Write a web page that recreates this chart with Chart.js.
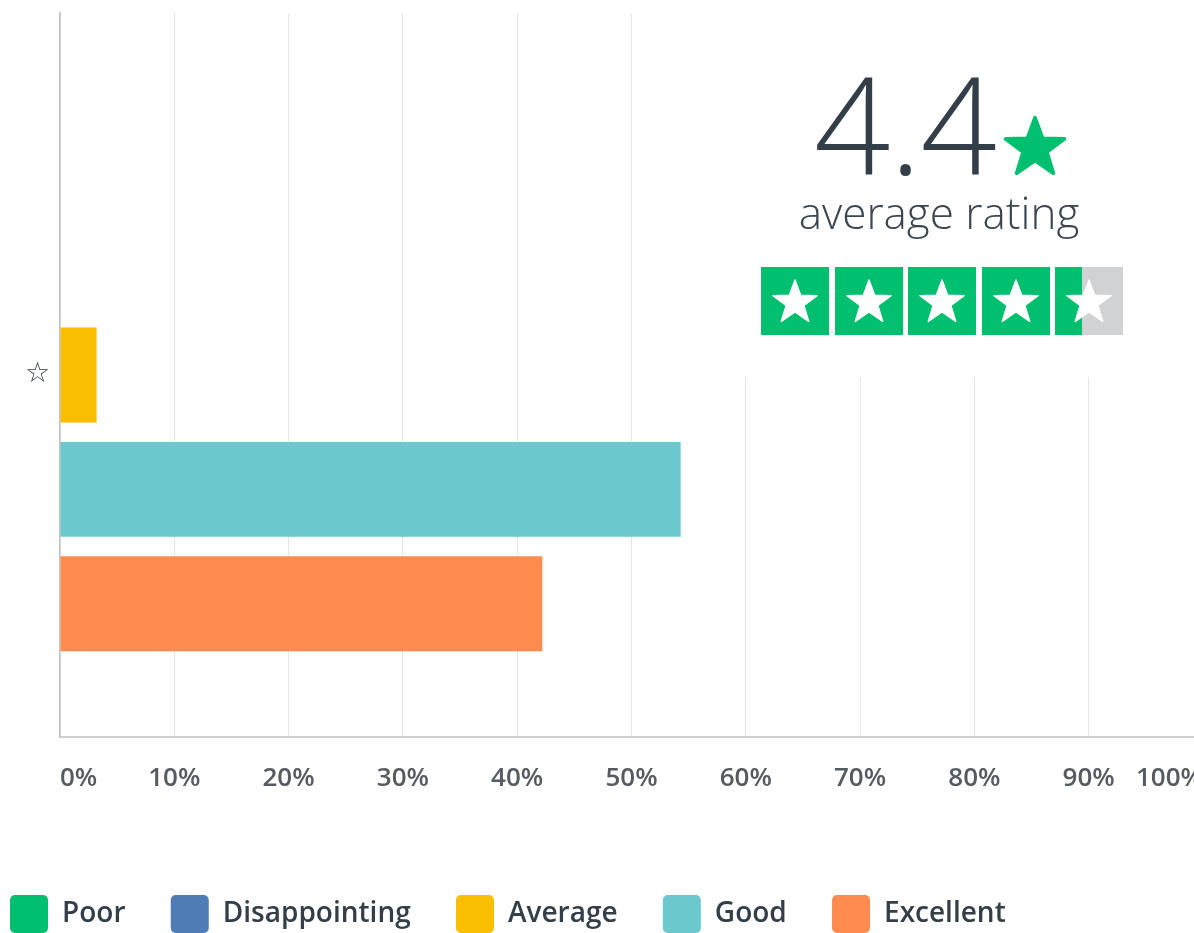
<!DOCTYPE html>
<html>
<head>
<meta charset="utf-8">
<script src="https://cdn.jsdelivr.net/npm/chart.js@4.4.1/dist/chart.umd.min.js"></script>
<style>
  html, body { margin: 0; padding: 0; background: #fff; overflow: hidden; width: 1194px; height: 933px; }
  #chart { position: absolute; left: 0; top: 0; }
  #rating { position: absolute; left: 690px; top: 0; width: 504px; height: 377px; background: #fff; }
  #rating .big { position: absolute; left: 124px; top: 56px; font-family: "Open Sans", sans-serif; font-weight: 300;
    font-size: 134px; line-height: 134px; color: #333e48; letter-spacing: -1px; white-space: nowrap; }
  #rating .star { position: absolute; left: 312px; top: 114px; width: 66px; height: 64px; }
  #rating .sub { position: absolute; left: -3px; width: 504px; text-align: center; top: 190px; font-family: "Open Sans", sans-serif;
    font-weight: 300; font-size: 44px; line-height: 44px; color: #3b4650; white-space: nowrap; }
  #rating .boxes { position: absolute; left: 71px; top: 267px; display: flex; gap: 5.6px; }
  #rating .box { width: 68px; height: 68px; background: #00bf6f; display: flex; align-items: center; justify-content: center; }
  #rating .box.part { background: linear-gradient(to right, #00bf6f 0%, #00bf6f 40%, #d1d2d4 40%, #d1d2d4 100%); }
  #rating .box svg { width: 48px; height: 48px; }
</style>
</head>
<body>
<canvas id="chart" width="1229" height="943"></canvas>
<div id="rating">
  <div class="big">4.4</div>
  <svg class="star" viewBox="0 0 100 100"><polygon points="50,6 61.8,38.2 96,38.8 68.5,59.4 78.6,92.5 50,72.6 21.4,92.5 31.5,59.4 4,38.8 38.2,38.2" fill="#00bf6f" stroke="#00bf6f" stroke-width="6" stroke-linejoin="round"/></svg>
  <div class="sub">average rating</div>
  <div class="boxes" id="boxes"></div>
</div>
<script>
// rating data
const averageRating = 4.4;

// chart data
const categories = ['☆'];
const seriesNames = ['Poor', 'Disappointing', 'Average', 'Good', 'Excellent'];
const poorValues = [0];
const disappointingValues = [0];
const averageValues = [3.2];
const goodValues = [54.3];
const excellentValues = [42.2];
const xTickMin = 0;
const xTickMax = 100;
const xTickStep = 10;

const seriesColors = ['#00bf6f', '#507cb6', '#f9be00', '#6bc8cd', '#ff8b4f'];
const seriesValues = [poorValues, disappointingValues, averageValues, goodValues, excellentValues];

// trustpilot-like star boxes
const starSvg = '<svg viewBox="0 0 100 100"><polygon points="50,6 61.8,38.2 96,38.8 68.5,59.4 78.6,92.5 50,72.6 21.4,92.5 31.5,59.4 4,38.8 38.2,38.2" fill="#fff" stroke="#fff" stroke-width="3" stroke-linejoin="round"/></svg>';
const boxes = document.getElementById('boxes');
for (let i = 0; i < 5; i++) {
  const b = document.createElement('div');
  b.className = 'box' + (averageRating < i + 1 ? ' part' : '');
  b.innerHTML = starSvg;
  boxes.appendChild(b);
}

new Chart(document.getElementById('chart').getContext('2d'), {
  type: 'bar',
  data: {
    labels: categories,
    datasets: seriesNames.map((name, i) => ({
      label: name,
      data: seriesValues[i],
      backgroundColor: seriesColors[i],
      borderWidth: 0,
      categoryPercentage: 0.79,
      barPercentage: 0.83
    }))
  },
  options: {
    indexAxis: 'y',
    responsive: false,
    animation: false,
    layout: { padding: { top: 13, right: 0, left: 0, bottom: 0 } },
    scales: {
      x: {
        min: xTickMin,
        max: xTickMax,
        ticks: {
          stepSize: xTickStep,
          align: 'inner',
          padding: 26,
          color: '#555b61',
          font: { family: 'Open Sans', size: 26, weight: '600' },
          callback: v => v + '%'
        },
        grid: { color: '#e6e6e6', lineWidth: 1, drawTicks: false },
        border: { color: '#d0d0d0', width: 2 },
        afterFit: s => { s.height = 148; }
      },
      y: {
        ticks: {
          padding: 10,
          color: '#333e48',
          font: { family: 'DejaVu Sans', size: 28, lineHeight: 0.1 }
        },
        grid: { display: false, drawTicks: false },
        border: { color: '#c2c2c2', width: 1.5 },
        afterFit: s => { s.width = 60; }
      }
    },
    plugins: {
      tooltip: { enabled: false },
      legend: {
        position: 'bottom',
        align: 'start',
        labels: {
          boxWidth: 38,
          boxHeight: 38,
          useBorderRadius: true,
          borderRadius: 5,
          padding: 10,
          color: '#333e48',
          font: { family: 'Open Sans', size: 28, weight: '600' },
          generateLabels: chart => Chart.defaults.plugins.legend.labels.generateLabels(chart)
            .map(item => Object.assign(item, { text: item.text + '\u2003 ' }))
        }
      }
    }
  }
});
</script>
</body>
</html>
